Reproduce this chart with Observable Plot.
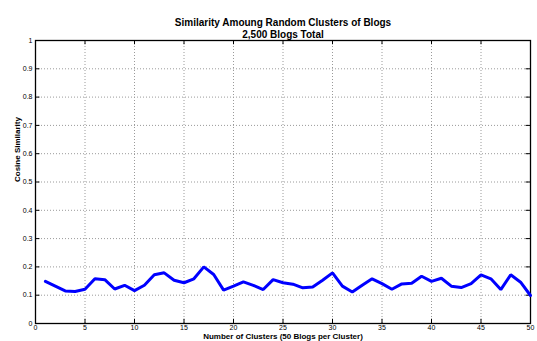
<!DOCTYPE html>
<html>
<head>
<meta charset="utf-8">
<script src="https://cdn.jsdelivr.net/npm/d3@7"></script>
<script src="https://cdn.jsdelivr.net/npm/@observablehq/plot@0.6"></script>
<style>
  html, body { margin: 0; padding: 0; background: #fff; }
</style>
</head>
<body>
<div id="chart"></div>
<script>
const titleLines = ["Similarity Amoung Random Clusters of Blogs", "2,500 Blogs Total"];
const xLabel = "Number of Clusters (50 Blogs per Cluster)";
const yLabel = "Cosine Similarity";

const clusters = [1,2,3,4,5,6,7,8,9,10,11,12,13,14,15,16,17,18,19,20,21,22,23,24,25,
                  26,27,28,29,30,31,32,33,34,35,36,37,38,39,40,41,42,43,44,45,46,47,48,49,50];
const similarity = [0.149,0.132,0.115,0.113,0.121,0.158,0.155,0.122,0.135,0.116,
                    0.135,0.172,0.179,0.153,0.144,0.158,0.200,0.173,0.118,0.132,
                    0.147,0.135,0.120,0.155,0.144,0.139,0.126,0.129,0.153,0.179,
                    0.132,0.111,0.135,0.158,0.141,0.121,0.140,0.142,0.167,0.149,
                    0.160,0.132,0.127,0.141,0.172,0.158,0.120,0.172,0.146,0.099];

const xTicks = [0,5,10,15,20,25,30,35,40,45,50];
const yTicks = [0,0.1,0.2,0.3,0.4,0.5,0.6,0.7,0.8,0.9,1];
const yTickLabels = ["0","0.1","0.2","0.3","0.4","0.5","0.6","0.7","0.8","0.9","1"];

const data = clusters.map((c, i) => ({x: c, y: similarity[i]}));
const innerX = xTicks.slice(1, -1);
const innerY = yTicks.slice(1, -1);

const chart = Plot.plot({
  width: 537,
  height: 341,
  marginLeft: 35,
  marginRight: 7,
  marginTop: 40,
  marginBottom: 18,
  style: {fontFamily: "'Liberation Sans', Arial, Helvetica, sans-serif", background: "#fff", color: "#000"},
  x: {domain: [0, 50]},
  y: {domain: [0, 1]},
  marks: [
    Plot.ruleX(innerX, {x: d => d, stroke: "#9a9a9a", strokeDasharray: "1,2", strokeWidth: 1}),
    Plot.ruleY(innerY, {y: d => d, stroke: "#9a9a9a", strokeDasharray: "1,2", strokeWidth: 1}),
    Plot.axisX({ticks: xTicks, tickSize: 0, tickPadding: 2, fontSize: 7, label: null, tickFormat: d => String(d)}),
    Plot.axisY({ticks: yTicks, tickSize: 0, tickPadding: 3, fontSize: 7, label: null,
                tickFormat: d => yTickLabels[yTicks.indexOf(d)] ?? String(d)}),
    // inward tick marks on all four sides
    Plot.ruleY(yTicks, {y: d => d, x1: 0, x2: 0.45, stroke: "#000", strokeWidth: 1}),
    Plot.ruleY(yTicks, {y: d => d, x1: 50, x2: 49.55, stroke: "#000", strokeWidth: 1}),
    Plot.ruleX(xTicks, {x: d => d, y1: 0, y2: 0.015, stroke: "#000", strokeWidth: 1}),
    Plot.ruleX(xTicks, {x: d => d, y1: 1, y2: 0.985, stroke: "#000", strokeWidth: 1}),
    Plot.frame({stroke: "#000", strokeWidth: 1.3}),
    Plot.line(data, {x: "x", y: "y", stroke: "#0000ff", strokeWidth: 3, strokeLinejoin: "miter"}),
    Plot.text([titleLines[0]], {text: d => d, frameAnchor: "top", dy: -22, fontSize: 10, fontWeight: "bold", fill: "#000"}),
    Plot.text([titleLines[1]], {text: d => d, frameAnchor: "top", dy: -10, fontSize: 10, fontWeight: "bold", fill: "#000"}),
    Plot.text([xLabel], {text: d => d, frameAnchor: "bottom", dy: 15, fontSize: 8, fontWeight: "bold", fill: "#000"}),
    Plot.text([yLabel], {text: d => d, frameAnchor: "left", dx: -18, rotate: -90, fontSize: 8, fontWeight: "bold", fill: "#000"})
  ]
});
document.getElementById("chart").appendChild(chart);
</script>
</body>
</html>
